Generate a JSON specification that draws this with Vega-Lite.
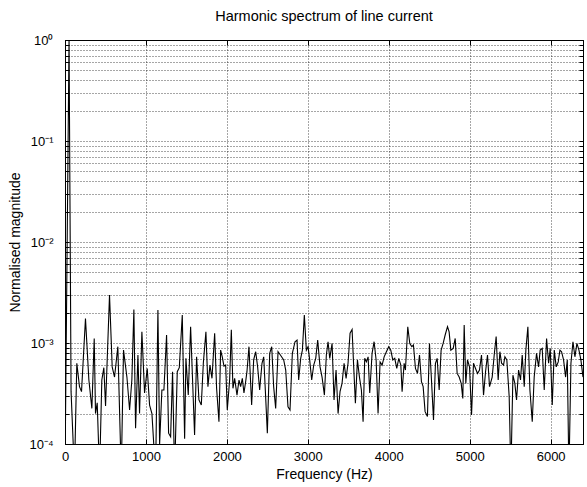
{
  "$schema": "https://vega.github.io/schema/vega-lite/v6.json",
  "width": 518,
  "height": 404,
  "autosize": {"type": "none"},
  "padding": {"left": 65, "top": 40, "right": 4, "bottom": 43},
  "background": "white",
  "config": {
    "view": {"stroke": "#000", "strokeWidth": 1},
    "font": "Liberation Sans",
    "axis": {
      "labelFont": "Liberation Sans",
      "titleFont": "Liberation Sans",
      "labelFontSize": 13,
      "titleFontSize": 14,
      "titleFontWeight": "normal",
      "labelColor": "#000",
      "titleColor": "#000",
      "domainColor": "#000",
      "tickColor": "#000",
      "gridColor": "#000",
      "gridDash": [1, 2],
      "gridOpacity": 0.7,
      "gridWidth": 1,
      "labelOverlap": false,
      "labelBound": false,
      "labelFlush": false
    }
  },
  "title": {
    "text": "Harmonic spectrum of line current",
    "font": "Liberation Sans",
    "fontSize": 14.5,
    "fontWeight": "normal",
    "color": "#000",
    "offset": 10
  },
  "data": {
    "values": [
      {"f": 0, "m": 0.00005}, {"f": 50, "m": 1.0}, {"f": 75, "m": 0.00033}, {"f": 117, "m": 0.00005},
      {"f": 146, "m": 0.00063}, {"f": 179, "m": 0.00037}, {"f": 204, "m": 0.00033}, {"f": 253, "m": 0.00175},
      {"f": 295, "m": 0.00043}, {"f": 332, "m": 0.000225}, {"f": 361, "m": 0.00111}, {"f": 377, "m": 0.0002},
      {"f": 398, "m": 0.000256}, {"f": 427, "m": 0.00005}, {"f": 455, "m": 0.00043}, {"f": 480, "m": 0.00057},
      {"f": 501, "m": 0.000238}, {"f": 550, "m": 0.00299}, {"f": 583, "m": 0.00058}, {"f": 612, "m": 0.00046},
      {"f": 653, "m": 0.00092}, {"f": 695, "m": 0.00005}, {"f": 723, "m": 0.00085}, {"f": 765, "m": 0.00046},
      {"f": 798, "m": 0.000217}, {"f": 826, "m": 0.00043}, {"f": 851, "m": 0.00215}, {"f": 872, "m": 0.000143},
      {"f": 901, "m": 0.00076}, {"f": 921, "m": 0.0002}, {"f": 950, "m": 0.00129}, {"f": 983, "m": 0.00032},
      {"f": 1016, "m": 0.00056}, {"f": 1045, "m": 0.000243}, {"f": 1074, "m": 0.0002}, {"f": 1119, "m": 0.00005},
      {"f": 1148, "m": 0.00212}, {"f": 1169, "m": 0.0001}, {"f": 1197, "m": 0.000343}, {"f": 1222, "m": 0.000343},
      {"f": 1255, "m": 0.0012}, {"f": 1280, "m": 0.000128}, {"f": 1305, "m": 0.000118}, {"f": 1329, "m": 0.00052},
      {"f": 1354, "m": 0.00005}, {"f": 1387, "m": 0.00052}, {"f": 1412, "m": 0.00057}, {"f": 1449, "m": 0.00189},
      {"f": 1478, "m": 0.000113}, {"f": 1494, "m": 0.000705}, {"f": 1523, "m": 0.000305}, {"f": 1552, "m": 0.00145},
      {"f": 1601, "m": 0.000123}, {"f": 1626, "m": 0.00073}, {"f": 1655, "m": 0.000273}, {"f": 1684, "m": 0.000243},
      {"f": 1709, "m": 0.00063}, {"f": 1741, "m": 0.00129}, {"f": 1766, "m": 0.00037}, {"f": 1791, "m": 0.000605},
      {"f": 1816, "m": 0.000447}, {"f": 1849, "m": 0.00125}, {"f": 1873, "m": 0.000356}, {"f": 1902, "m": 0.000166},
      {"f": 1923, "m": 0.00085}, {"f": 1943, "m": 0.00073}, {"f": 1964, "m": 0.00059}, {"f": 1985, "m": 0.000605},
      {"f": 2005, "m": 0.000217}, {"f": 2034, "m": 0.00043}, {"f": 2055, "m": 0.00135}, {"f": 2075, "m": 0.000356},
      {"f": 2096, "m": 0.000447}, {"f": 2125, "m": 0.000305}, {"f": 2150, "m": 0.00043}, {"f": 2170, "m": 0.00037},
      {"f": 2191, "m": 0.000447}, {"f": 2211, "m": 0.00032}, {"f": 2232, "m": 0.000414}, {"f": 2248, "m": 0.00052},
      {"f": 2273, "m": 0.00092}, {"f": 2306, "m": 0.000243}, {"f": 2331, "m": 0.00068}, {"f": 2356, "m": 0.00082},
      {"f": 2380, "m": 0.00058}, {"f": 2405, "m": 0.000343}, {"f": 2434, "m": 0.00063}, {"f": 2455, "m": 0.00073},
      {"f": 2475, "m": 0.000343}, {"f": 2500, "m": 0.000128}, {"f": 2529, "m": 0.00079}, {"f": 2554, "m": 0.00092},
      {"f": 2578, "m": 0.00037}, {"f": 2603, "m": 0.000225}, {"f": 2632, "m": 0.00082}, {"f": 2661, "m": 0.00076},
      {"f": 2702, "m": 0.00068}, {"f": 2727, "m": 0.00054}, {"f": 2755, "m": 0.000234}, {"f": 2780, "m": 0.000217},
      {"f": 2809, "m": 0.00079}, {"f": 2842, "m": 0.00103}, {"f": 2867, "m": 0.00107}, {"f": 2887, "m": 0.00043},
      {"f": 2912, "m": 0.000705}, {"f": 2933, "m": 0.00085}, {"f": 2957, "m": 0.00189}, {"f": 2982, "m": 0.00085},
      {"f": 3003, "m": 0.00092}, {"f": 3023, "m": 0.00068}, {"f": 3048, "m": 0.00043}, {"f": 3073, "m": 0.000605},
      {"f": 3098, "m": 0.000705}, {"f": 3122, "m": 0.00107}, {"f": 3151, "m": 0.00058}, {"f": 3176, "m": 0.00046},
      {"f": 3205, "m": 0.000305}, {"f": 3229, "m": 0.00076}, {"f": 3250, "m": 0.00103}, {"f": 3271, "m": 0.000705},
      {"f": 3300, "m": 0.00099}, {"f": 3324, "m": 0.000273}, {"f": 3349, "m": 0.00054}, {"f": 3374, "m": 0.0002},
      {"f": 3398, "m": 0.00033}, {"f": 3423, "m": 0.000398}, {"f": 3448, "m": 0.00063}, {"f": 3473, "m": 0.000447},
      {"f": 3497, "m": 0.00063}, {"f": 3522, "m": 0.00125}, {"f": 3547, "m": 0.00136}, {"f": 3567, "m": 0.00058},
      {"f": 3588, "m": 0.000253}, {"f": 3613, "m": 0.00068}, {"f": 3638, "m": 0.00046}, {"f": 3662, "m": 0.000343},
      {"f": 3683, "m": 0.000166}, {"f": 3703, "m": 0.000705}, {"f": 3724, "m": 0.00065}, {"f": 3745, "m": 0.00073},
      {"f": 3765, "m": 0.00032}, {"f": 3794, "m": 0.00079}, {"f": 3819, "m": 0.00103}, {"f": 3844, "m": 0.00068},
      {"f": 3868, "m": 0.0002}, {"f": 3893, "m": 0.00065}, {"f": 3918, "m": 0.000605}, {"f": 3943, "m": 0.00073},
      {"f": 3971, "m": 0.00082}, {"f": 4000, "m": 0.00092}, {"f": 4025, "m": 0.00085}, {"f": 4050, "m": 0.00068},
      {"f": 4074, "m": 0.000705}, {"f": 4099, "m": 0.00056}, {"f": 4124, "m": 0.000705}, {"f": 4149, "m": 0.000605},
      {"f": 4165, "m": 0.00033}, {"f": 4190, "m": 0.00063}, {"f": 4206, "m": 0.00054}, {"f": 4235, "m": 0.00145},
      {"f": 4260, "m": 0.00099}, {"f": 4285, "m": 0.00092}, {"f": 4305, "m": 0.000955}, {"f": 4330, "m": 0.00056},
      {"f": 4355, "m": 0.0005}, {"f": 4380, "m": 0.00076}, {"f": 4404, "m": 0.000414}, {"f": 4425, "m": 0.00037},
      {"f": 4449, "m": 0.000209}, {"f": 4478, "m": 0.000187}, {"f": 4503, "m": 0.00099}, {"f": 4528, "m": 0.00043},
      {"f": 4553, "m": 0.000173}, {"f": 4577, "m": 0.00063}, {"f": 4598, "m": 0.000705}, {"f": 4623, "m": 0.000343},
      {"f": 4647, "m": 0.00085}, {"f": 4672, "m": 0.00099}, {"f": 4697, "m": 0.0012}, {"f": 4726, "m": 0.00145},
      {"f": 4746, "m": 0.00129}, {"f": 4767, "m": 0.00085}, {"f": 4796, "m": 0.000885}, {"f": 4821, "m": 0.00111},
      {"f": 4845, "m": 0.0005}, {"f": 4870, "m": 0.00046}, {"f": 4895, "m": 0.000398}, {"f": 4915, "m": 0.000283},
      {"f": 4932, "m": 0.00151}, {"f": 4952, "m": 0.000398}, {"f": 4973, "m": 0.00068}, {"f": 4998, "m": 0.00058},
      {"f": 5023, "m": 0.000194}, {"f": 5047, "m": 0.00063}, {"f": 5072, "m": 0.00056}, {"f": 5097, "m": 0.0005},
      {"f": 5121, "m": 0.00054}, {"f": 5146, "m": 0.00076}, {"f": 5171, "m": 0.000305}, {"f": 5196, "m": 0.00052},
      {"f": 5220, "m": 0.00076}, {"f": 5245, "m": 0.00037}, {"f": 5278, "m": 0.00046}, {"f": 5303, "m": 0.00076},
      {"f": 5327, "m": 0.00116}, {"f": 5352, "m": 0.00043}, {"f": 5373, "m": 0.00082}, {"f": 5394, "m": 0.00063},
      {"f": 5418, "m": 0.000605}, {"f": 5435, "m": 0.00073}, {"f": 5459, "m": 0.00068}, {"f": 5488, "m": 0.000294},
      {"f": 5509, "m": 0.00005}, {"f": 5534, "m": 0.00048}, {"f": 5558, "m": 0.000398}, {"f": 5579, "m": 0.000273},
      {"f": 5604, "m": 0.00054}, {"f": 5628, "m": 0.00043}, {"f": 5649, "m": 0.00076}, {"f": 5674, "m": 0.00037},
      {"f": 5694, "m": 0.00085}, {"f": 5719, "m": 0.00145}, {"f": 5744, "m": 0.000343}, {"f": 5773, "m": 0.000166},
      {"f": 5797, "m": 0.00046}, {"f": 5826, "m": 0.00079}, {"f": 5851, "m": 0.00058}, {"f": 5871, "m": 0.00085},
      {"f": 5896, "m": 0.000885}, {"f": 5921, "m": 0.000343}, {"f": 5950, "m": 0.00111}, {"f": 5975, "m": 0.00063},
      {"f": 5995, "m": 0.000885}, {"f": 6020, "m": 0.000243}, {"f": 6045, "m": 0.00085}, {"f": 6069, "m": 0.00058},
      {"f": 6094, "m": 0.00065}, {"f": 6115, "m": 0.00085}, {"f": 6135, "m": 0.00082}, {"f": 6160, "m": 0.00068},
      {"f": 6185, "m": 0.00046}, {"f": 6206, "m": 0.00068}, {"f": 6226, "m": 0.00005}, {"f": 6251, "m": 0.00063},
      {"f": 6276, "m": 0.00103}, {"f": 6300, "m": 0.00073}, {"f": 6325, "m": 0.00099}, {"f": 6350, "m": 0.00085},
      {"f": 6374, "m": 0.00068}, {"f": 6400, "m": 0.00046}
    ]
  },
  "layer": [
    {
      "mark": {"type": "line", "color": "#000", "strokeWidth": 1.1, "clip": true},
      "encoding": {
        "x": {
          "field": "f", "type": "quantitative",
          "scale": {"domain": [0, 6400], "nice": false, "zero": false},
          "axis": {
            "orient": "bottom",
            "values": [0, 1000, 2000, 3000, 4000, 5000, 6000],
            "title": "Frequency (Hz)",
            "titlePadding": 4,
            "grid": true,
            "tickSize": -5,
            "labelPadding": 11,
            "format": "d"
          }
        },
        "y": {
          "field": "m", "type": "quantitative",
          "scale": {"type": "log", "domain": [0.0001, 1], "nice": false},
          "axis": {
            "orient": "left",
            "values": [0.0001, 0.0002, 0.0003, 0.0004, 0.0005, 0.0006, 0.0007, 0.0008, 0.0009,
                       0.001, 0.002, 0.003, 0.004, 0.005, 0.006, 0.007, 0.008, 0.009,
                       0.01, 0.02, 0.03, 0.04, 0.05, 0.06, 0.07, 0.08, 0.09,
                       0.1, 0.2, 0.3, 0.4, 0.5, 0.6, 0.7, 0.8, 0.9, 1],
            "labelExpr": "abs(log(datum.value)/LN10 - round(log(datum.value)/LN10)) > 0.001 ? '' : round(log(datum.value)/LN10) == 0 ? '10⁰' : round(log(datum.value)/LN10) == -1 ? '10⁻¹' : round(log(datum.value)/LN10) == -2 ? '10⁻²' : round(log(datum.value)/LN10) == -3 ? '10⁻³' : '10⁻⁴'",
            "title": "Normalised magnitude",
            "titlePadding": 6,
            "grid": true,
            "tickSize": -4,
            "labelPadding": 16
          }
        }
      }
    },
    {
      "mark": {"type": "line", "opacity": 0},
      "encoding": {
        "x": {
          "field": "f", "type": "quantitative",
          "axis": {
            "orient": "top",
            "values": [0, 1000, 2000, 3000, 4000, 5000, 6000],
            "title": null, "labels": false, "grid": false, "tickSize": -5
          }
        },
        "y": {
          "field": "m", "type": "quantitative",
          "axis": {
            "orient": "right",
            "values": [0.0001, 0.0002, 0.0003, 0.0004, 0.0005, 0.0006, 0.0007, 0.0008, 0.0009,
                       0.001, 0.002, 0.003, 0.004, 0.005, 0.006, 0.007, 0.008, 0.009,
                       0.01, 0.02, 0.03, 0.04, 0.05, 0.06, 0.07, 0.08, 0.09,
                       0.1, 0.2, 0.3, 0.4, 0.5, 0.6, 0.7, 0.8, 0.9, 1],
            "title": null, "labels": false, "grid": false, "tickSize": -4
          }
        }
      }
    }
  ],
  "resolve": {"axis": {"x": "independent", "y": "independent"}}
}
